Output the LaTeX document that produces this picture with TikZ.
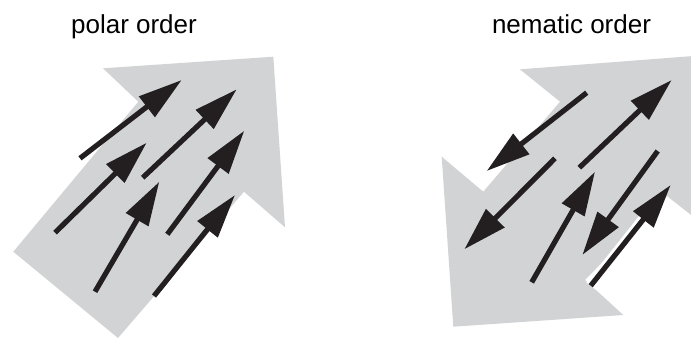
\documentclass[tikz,border=0pt]{standalone}
\usepackage{fontspec}
\setmainfont{Liberation Sans}
\usetikzlibrary{arrows.meta,calc}
\definecolor{shade}{RGB}{209,211,212}
\definecolor{ink}{RGB}{35,31,32}
\tikzset{
  bigshape/.style={fill=shade, draw=none},
  rod/.style={draw=ink, line width=5.2pt, -{Triangle[length=44pt,width=25pt]}, ink},
  halo/.style={draw=white, line width=11pt},
  title/.style={font=\fontsize{26}{31}\selectfont, anchor=base, text=black, inner sep=0pt}
}
\begin{document}
\begin{tikzpicture}[x=1pt,y=-1pt]
\useasboundingbox (0,0) rectangle (691,338);
\clip (0,0) rectangle (691,338);
\fill[white] (0,0) rectangle (691,338);
% titles
\node[title] (t1) at (134,33.3) {polar order};
\node[title] (t2) at (571.5,33.3) {nematic order};
% polar big arrow
\fill[bigshape] (103,68.3) -- (273.3,56.7) -- (285,227.3) -- (244,191.7) -- (118,338) -- (13.3,251.7) -- (138.3,101.7) -- cycle;
% nematic big double arrow
\fill[bigshape] (520,69.3) -- (700,55.5) -- (700,222) -- (667,196) -- (585,280) -- (623.3,315) -- (453.3,326.7) -- (441.7,156.7) -- (483.3,191.7) -- (560,101.7) -- cycle;
% polar small arrows
\coordinate (a1s) at (80,158.3);   \coordinate (a1e) at (181.7,80);
\coordinate (a2s) at (55,232.7);   \coordinate (a2e) at (146.7,142.7);
\coordinate (a3s) at (142.7,177.7);\coordinate (a3e) at (236.7,89.3);
\coordinate (a4s) at (95,291.7);   \coordinate (a4e) at (159.3,181.7);
\coordinate (a5s) at (167.3,234.3);\coordinate (a5e) at (244.3,130.7);
\coordinate (a6s) at (154,296);    \coordinate (a6e) at (235,195);
\draw[rod] (a1s) -- (a1e);
\draw[rod] (a2s) -- (a2e);
\draw[rod] (a3s) -- (a3e);
\draw[rod] (a4s) -- (a4e);
\draw[rod] (a5s) -- (a5e);
\draw[rod] (a6s) -- (a6e);
% nematic small arrows
\coordinate (b1s) at (586.7,92.7); \coordinate (b1e) at (486.7,171);
\coordinate (b2s) at (579.3,167.7);\coordinate (b2e) at (671.7,80);
\coordinate (b3s) at (555,158.3);  \coordinate (b3e) at (464.3,249.3);
\coordinate (b4s) at (531.7,282.3);\coordinate (b4e) at (595,171.7);
\coordinate (b5s) at (657.7,151);  \coordinate (b5e) at (582.3,255);
\coordinate (b6s) at (590.7,285.7);\coordinate (b6e) at (670.7,185);
\coordinate (b6m) at ($(b6s)!0.7!(b6e)$);
\draw[rod] (b1s) -- (b1e);
\draw[rod] (b2s) -- (b2e);
\draw[rod] (b3s) -- (b3e);
\draw[rod] (b4s) -- (b4e);
\draw[rod] (b5s) -- (b5e);
\draw[halo] (b6s) -- (b6m);
\draw[rod] (b6s) -- (b6e);
\end{tikzpicture}
\end{document}
